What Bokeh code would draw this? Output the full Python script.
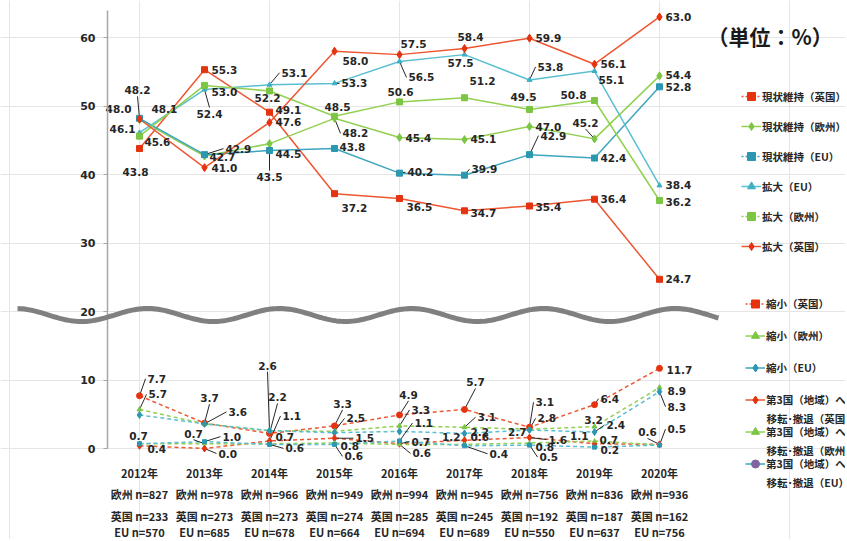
import numpy as np
from bokeh.plotting import figure
from bokeh.models import Range1d, LinearAxis, FixedTicker, Legend, LegendItem, Label
from bokeh.core.properties import value
from bokeh.embed import file_html
from bokeh.resources import INLINE

# ---------------- data ----------------
years = ["2012年", "2013年", "2014年", "2015年", "2016年", "2017年", "2018年", "2019年", "2020年"]
europe_n = [827, 978, 966, 949, 994, 945, 756, 836, 936]
uk_n = [233, 273, 273, 274, 285, 245, 192, 187, 162]
eu_n = [570, 685, 678, 664, 694, 689, 550, 637, 756]
y_ticks = [0, 10, 20, 30, 40, 50, 60]

genjo_uk = [43.8, 55.3, 49.1, 37.2, 36.5, 34.7, 35.4, 36.4, 24.7]
genjo_eur = [48.0, 42.7, 44.5, 48.2, 45.4, 45.1, 47.0, 45.2, 54.4]
genjo_eu = [48.2, 42.9, 43.5, 43.8, 40.2, 39.9, 42.9, 42.4, 52.8]
kakudai_eu = [46.1, 52.4, 53.1, 53.3, 56.5, 57.5, 53.8, 55.1, 38.4]
kakudai_eur = [45.6, 53.0, 52.2, 48.5, 50.6, 51.2, 49.5, 50.8, 36.2]
kakudai_uk = [48.1, 41.0, 47.6, 58.0, 57.5, 58.4, 59.9, 56.1, 63.0]

shukusho_uk = [7.7, 3.7, 2.2, 3.3, 4.9, 5.7, 3.1, 6.4, 11.7]
shukusho_eur = [5.7, 3.6, 2.6, 2.5, 3.3, 3.1, 2.8, 3.2, 8.9]
shukusho_eu = [4.9, 3.6, 2.6, 2.3, 2.5, 2.2, 2.7, 2.4, 8.3]
third_uk = [0.4, 0.0, 1.1, 1.5, 0.7, 1.2, 1.6, 0.7, 0.6]
third_eur = [0.7, 0.7, 0.7, 0.8, 0.6, 0.6, 0.8, 1.1, 0.5]
third_eu = [0.7, 1.0, 0.6, 0.6, 1.1, 0.4, 0.5, 0.2, 0.5]

series_names = ["現状維持（英国）", "現状維持（欧州）", "現状維持（EU）", "拡大（EU）", "拡大（欧州）", "拡大（英国）",
                "縮小（英国）", "縮小（欧州）", "縮小（EU）"]
third_names = ["第3国（地域）へ", "第3国（地域）へ", "第3国（地域）へ"]
third_second = ["移転･撤退（英国）", "移転･撤退（欧州）", "移転･撤退（EU）"]
unit_text = "（単位：%）"

# ---------------- layout calibration (page pixels) ----------------
W, H = 845, 539
PAGE_LEFT, PAGE_TOP = 0, 0
X0_PAGE, X_STEP = 139.0, 65.0
Y0_PAGE, Y_SCALE = 448.0, 6.85


def to_data(px, py):
    return ((px - X0_PAGE) / X_STEP, (Y0_PAGE - py) / Y_SCALE)


x_start, y_end = to_data(PAGE_LEFT, PAGE_TOP)
x_end, y_start = to_data(PAGE_LEFT + W, PAGE_TOP + H)

p = figure(width=W, height=H, x_range=Range1d(x_start, x_end), y_range=Range1d(y_start, y_end),
           x_axis_location=None, y_axis_location=None, toolbar_location=None,
           output_backend="svg", outline_line_color=None,
           min_border_left=0, min_border_right=0, min_border_top=0, min_border_bottom=0)
p.background_fill_color = "white"
p.border_fill_color = "white"

# y axis
yax = LinearAxis(fixed_location=to_data(107, 0)[0], bounds=(0, to_data(0, 10)[1]),
                 ticker=FixedTicker(ticks=y_ticks, minor_ticks=[]),
                 axis_line_color="#A6A6A6", axis_line_width=1.5,
                 major_tick_line_color="#A6A6A6", major_tick_out=4, major_tick_in=0,
                 minor_tick_line_color=None, major_label_standoff=8,
                 major_label_text_font="DejaVu Sans", major_label_text_font_style="bold",
                 major_label_text_font_size="11px", major_label_text_color="#262626")
p.add_layout(yax, "left")

# x axes (4 rows of labels)
label_rows = [years,
              ["欧州 n=%d" % v for v in europe_n],
              ["英国 n=%d" % v for v in uk_n],
              ["EU n=%d" % v for v in eu_n]]
row_tops = [464, 485.5, 507, 523]
for labels, top in zip(label_rows, row_tops):
    ax = LinearAxis(fixed_location=to_data(0, top)[1],
                    ticker=FixedTicker(ticks=list(range(len(labels))), minor_ticks=[]),
                    major_label_overrides={i: t for i, t in enumerate(labels)},
                    axis_line_color=None, major_tick_line_color=None, minor_tick_line_color=None,
                    major_tick_out=0, major_tick_in=0, major_label_standoff=0,
                    major_label_text_font="Noto Sans CJK JP", major_label_text_font_style="bold",
                    major_label_text_font_size="11px", major_label_text_color="#262626")
    p.add_layout(ax, "below")

# wave (axis break decoration)
wx = np.linspace(17, 718, 300)
wy = 314.5 - 6.5 * np.cos(2 * np.pi * (wx - 147) / 132.0)
wd = [to_data(a, b) for a, b in zip(wx, wy)]
p.line([d[0] for d in wd], [d[1] for d in wd], line_color="#808080", line_width=5, level="overlay")

RED_L, RED_M = "#EE5632", "#E5330F"
GRN_L, GRN_M = "#92D050", "#7CC545"
TEAL_L, TEAL_M = "#3DA5BD", "#2C97AF"
LBLU_L, LBLU_M = "#5BBFD2", "#3FAFC6"

xs = list(range(len(years)))

styles = [
    (genjo_uk, RED_L, RED_M, "square", 6, "solid"),
    (genjo_eur, GRN_L, GRN_M, "diamond", 8, "solid"),
    (genjo_eu, TEAL_L, TEAL_M, "square", 6, "solid"),
    (kakudai_eu, LBLU_L, LBLU_M, "triangle", 5, "solid"),
    (kakudai_eur, GRN_L, GRN_M, "square", 6, "solid"),
    (kakudai_uk, RED_L, RED_M, "diamond", 8, "solid"),
    (shukusho_uk, RED_L, RED_M, "circle", 6, "4 3"),
    (shukusho_eur, GRN_L, GRN_M, "triangle", 5, "4 3"),
    (shukusho_eu, LBLU_L, TEAL_M, "diamond", 7, "4 3"),
    (third_uk, RED_L, RED_M, "diamond", 7, "4 3"),
    (third_eur, GRN_L, GRN_M, "triangle", 4, "4 3"),
    (third_eu, LBLU_L, TEAL_M, "square", 4, "4 3"),
]

# label placement: (align, dx px, dy px (down +), leader)
L = lambda dx, dy, lead=False: ("left", dx, dy, lead)
C = lambda dx, dy, lead=False: ("center", dx, dy, lead)
R = lambda dx, dy, lead=False: ("right", dx, dy, lead)
label_specs = [
    [C(-4, 24), L(7, 0), L(6, -2), L(7, 14), L(7, 9), L(6, 2), L(6, 1), L(6, 0), L(6, 0)],
    [R(-8, -11), L(5, 1), L(6, 10), L(8, 15, True), L(6, 0), L(6, -1), L(6, 0), C(-9, -16, True), L(6, -1)],
    [C(-2, -28, True), L(21, -6, True), C(0, 26, True), L(5, -1), L(8, -1, True), L(7, -6, True), L(11, -19, True), L(6, 0), L(6, 0)],
    [R(-4, -4), C(5, 24, True), L(12, -12, True), L(7, 0, True), L(9, 16, True), C(-4, 8), L(8, -13, True), L(4, 9), L(6, 0)],
    [L(5, 6), L(7, 7), C(-2, 7), C(3, -9), C(1, -10), C(18, -17), C(-6, -12), C(-21, -6), L(6, 1)],
    [L(12, -10), L(7, 0), L(6, 0), L(8, 10), C(14, -11), C(6, -11), L(6, 0), L(6, 0), L(6, 0)],
    [L(8, -17, True), C(5, -25, True), C(8, -36, True), C(8, -22, True), C(9, -20, True), C(11, -27, True), L(6, -25, True), L(6, -6, True), L(7, 2)],
    [L(9, -15, True), L(24, -12, True), C(-2, -65, True), L(12, -13, True), L(12, -16, True), L(13, -10, True), L(8, -11, True), C(-1, -7), L(8, 3)],
    [None, None, None, None, None, L(6, -1), R(-3, 2), L(12, -7, True), L(8, 15, True)],
    [L(8, 3), L(14, 5, True), L(13, -25, True), L(21, 0, True), L(12, -2, True), R(-4, -3), L(19, 2, True), L(5, -4), C(-12, -12, True)],
    [C(-1, -8), C(-11, -10, True), L(6, -7), L(6, 3), L(13, 9, True), L(6, -7), L(6, 4), R(-6, -5), None],
    [None, L(18, -5, True), L(16, 4, True), L(10, 12, True), L(15, -18, True), L(25, 8, True), L(10, 12, True), L(6, 3), L(8, -16, True)],
]

for vals, lc, mc, mk, ms, dash in styles:
    p.line(xs, vals, line_color=lc, line_width=1.5, line_dash=dash)

groups = {"left": ([], [], []), "center": ([], [], []), "right": ([], [], [])}
segs = ([], [], [], [])
for (vals, *_), specs in zip(styles, label_specs):
    for i, (v, s) in enumerate(zip(vals, specs)):
        if s is None:
            continue
        al, ox, oy, lead = s
        gx, gy, gt = groups[al]
        gx.append(i + ox / X_STEP)
        gy.append(v - oy / Y_SCALE)
        gt.append("%.1f" % v)
        if lead:
            if al == "left":
                ex, ey = ox - 2, oy
            elif al == "right":
                ex, ey = ox + 2, oy
            else:
                ex, ey = ox, (oy + 6 if oy < 0 else oy - 6)
            segs[0].append(i); segs[1].append(v)
            segs[2].append(i + ex / X_STEP); segs[3].append(v - ey / Y_SCALE)

p.segment(x0=segs[0], y0=segs[1], x1=segs[2], y1=segs[3], line_color="#262626", line_width=1)

for vals, lc, mc, mk, ms, dash in styles:
    p.scatter(xs, vals, marker=mk, size=ms, fill_color=mc, line_color=mc)

for al, (gx, gy, gt) in groups.items():
    p.text(x=gx, y=gy, text=gt, text_align=al, text_baseline="middle",
           text_font=value("DejaVu Sans"), text_font_style="bold",
           text_font_size="10.5px", text_color="#262626")

# ---------------- legends (off-screen sample renderers) ----------------
legend_styles = [
    (RED_L, "2 2", "square", RED_M),
    (GRN_L, "solid", "diamond", GRN_M),
    (TEAL_L, "2 2", "square", TEAL_M),
    (LBLU_L, "solid", "triangle", LBLU_M),
    (GRN_L, "2 2", "square", GRN_M),
    (RED_L, "solid", "diamond", RED_M),
    (RED_L, "2 2", "square", RED_M),
    (GRN_L, "solid", "triangle", GRN_M),
    (TEAL_L, "solid", "diamond", TEAL_M),
    (RED_L, "solid", "diamond", RED_M),
    (GRN_L, "solid", "triangle", GRN_M),
    (TEAL_L, "solid", "circle", "#8064A2"),
]
far = x_start - 50
items = []
for name, (lc, dash, mk, mc) in zip(series_names + third_names, legend_styles):
    lr = p.line(x=[far, far - 1], y=[0, 0], line_color=lc, line_width=1.5, line_dash=dash)
    sr = p.scatter(x=[far], y=[0], marker=mk, size=6, fill_color=mc, line_color=mc)
    items.append(LegendItem(label=name, renderers=[lr, sr]))

common = dict(border_line_color=None, background_fill_alpha=0, padding=0, margin=0,
              glyph_width=20, label_standoff=1,
              label_text_font="Noto Sans CJK JP", label_text_font_style="bold",
              label_text_font_size="10.5px", label_text_color="#262626")
leg1 = Legend(items=items[:6], location=(741, H - 256), spacing=10, glyph_height=20, label_height=20, **common)
leg2 = Legend(items=items[6:], location=(745, H - 474), spacing=11, glyph_height=21, label_height=21, **common)
p.add_layout(leg1)
p.add_layout(leg2)

for t, py in zip(third_second, [418, 450, 482]):
    lx, ly = to_data(766, py)
    p.add_layout(Label(x=lx, y=ly, text=t, text_align="left", text_baseline="middle",
                       text_font="Noto Sans CJK JP", text_font_style="bold",
                       text_font_size="10.5px", text_color="#262626"))

ux, uy = to_data(707, 35)
p.add_layout(Label(x=ux, y=uy, text=unit_text, text_align="left", text_baseline="middle",
                   text_font="Noto Sans CJK JP", text_font_style="bold",
                   text_font_size="21px", text_color="#1A1A1A"))

open("out.html", "w").write(file_html(p, INLINE))
